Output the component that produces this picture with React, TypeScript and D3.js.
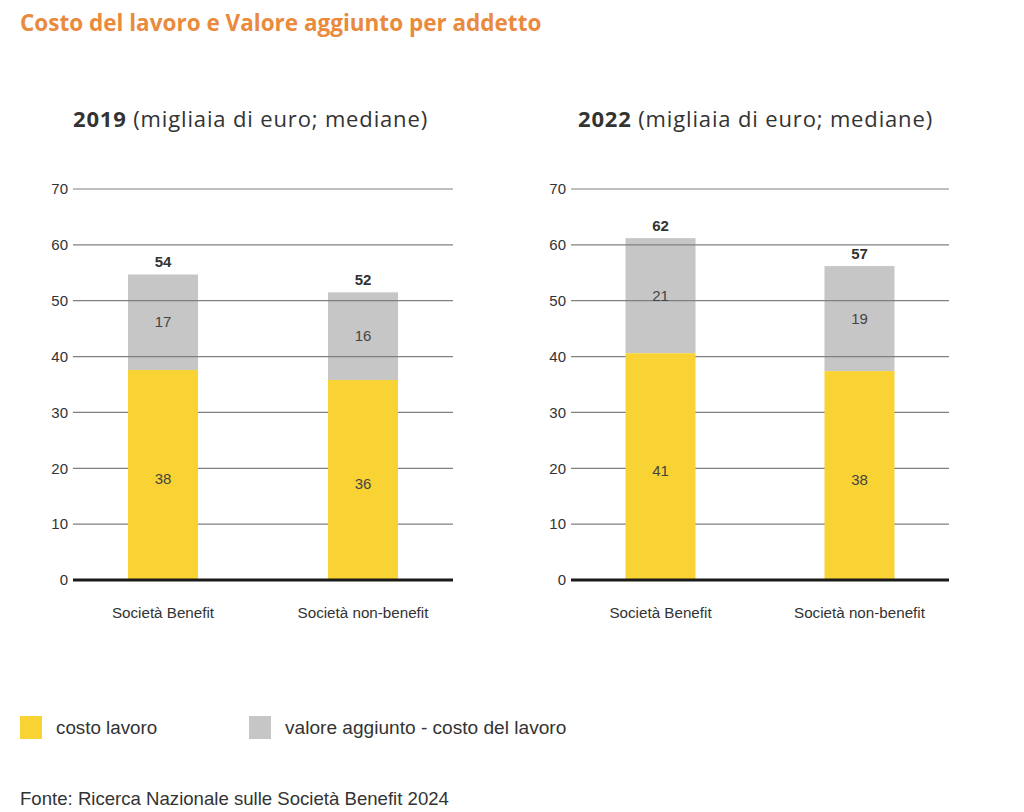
import React from "react";
import * as d3 from "d3";

const categories = ["Società Benefit", "Società non-benefit"];
const years = ["2019", "2022"];
// bar heights (migliaia di euro)
const costoLavoro2019 = [37.6, 35.8];
const valoreAggiunto2019 = [54.7, 51.5];
const costoLavoro2022 = [40.6, 37.4];
const valoreAggiunto2022 = [61.2, 56.2];
// printed labels
const costoLabels2019 = ["38", "36"];
const diffLabels2019 = ["17", "16"];
const totalLabels2019 = ["54", "52"];
const costoLabels2022 = ["41", "38"];
const diffLabels2022 = ["21", "19"];
const totalLabels2022 = ["62", "57"];
const yTicks = [0, 10, 20, 30, 40, 50, 60, 70];
const legendLabels = ["costo lavoro", "valore aggiunto - costo del lavoro"];

const YELLOW = "#F9D333";
const GREY = "#C6C6C6";
const TXT = "#333333";
const SANS = "'Liberation Sans', Arial, sans-serif";
const HEAD = "'Open Sans', 'Noto Sans', sans-serif";

const y = d3.scaleLinear().domain([0, 70]).range([580, 189]);

function Panel({ x0, x1, titleX, year, costo, totale, cLab, dLab, tLab }) {
  const x = d3.scalePoint().domain(categories).range([x0, x1]).padding(0.45);
  const bw = 70;
  const grid = yTicks.filter((t) => t > 0);
  return (
    <g>
      <text x={titleX} y={127} fontFamily={HEAD} fontSize={22} letterSpacing={0.85} fill={TXT}>
        <tspan fontWeight={700}>{year}</tspan>
        <tspan> (migliaia di euro; mediane)</tspan>
      </text>
      {yTicks.map((t) => (
        <text key={t} x={x0 - 5} y={y(t)} dy="0.35em" textAnchor="end" fontFamily={SANS} fontSize={15} fill={TXT}>
          {t}
        </text>
      ))}
      {categories.map((c, i) => (
        <rect key={c} x={x(c) - bw / 2} y={y(totale[i])} width={bw} height={y(costo[i]) - y(totale[i])} fill={GREY} />
      ))}
      {grid.map((t) => (
        <line key={t} x1={x0} x2={x1} y1={y(t)} y2={y(t)} stroke="#808080" strokeWidth={1.2} />
      ))}
      {categories.map((c, i) => {
        const cx = x(c);
        return (
          <g key={c}>
            <rect x={cx - bw / 2} y={y(costo[i])} width={bw} height={y(0) - y(costo[i])} fill={YELLOW} />
            <text x={cx} y={y(totale[i]) - 7} textAnchor="middle" fontFamily={SANS} fontSize={15} fontWeight={700} fill={TXT}>
              {tLab[i]}
            </text>
            <text x={cx} y={(y(totale[i]) + y(costo[i])) / 2} dy="0.35em" textAnchor="middle" fontFamily={SANS} fontSize={15} fill="#444">
              {dLab[i]}
            </text>
            <text x={cx} y={(y(costo[i]) + y(0)) / 2 + 4} dy="0.35em" textAnchor="middle" fontFamily={SANS} fontSize={15} fill="#444">
              {cLab[i]}
            </text>
            <text x={cx} y={613} dy="0.35em" textAnchor="middle" fontFamily={SANS} fontSize={15.2} fill={TXT}>
              {c}
            </text>
          </g>
        );
      })}
      <line x1={x0} x2={x1} y1={y(0)} y2={y(0)} stroke="#1a1a1a" strokeWidth={3} />
    </g>
  );
}

export default function App() {
  return (
    <svg width={1024} height={812} style={{ position: "absolute", left: 0, top: 0, background: "#fff" }}>
      <rect width={1024} height={812} fill="#fff" />
      <text x={20} y={31} fontFamily={HEAD} fontSize={22.5} fontWeight={700} fill="#E98A3C">
        Costo del lavoro e Valore aggiunto per addetto
      </text>
      <Panel x0={73} x1={453} titleX={73} year={years[0]} costo={costoLavoro2019} totale={valoreAggiunto2019}
        cLab={costoLabels2019} dLab={diffLabels2019} tLab={totalLabels2019} />
      <Panel x0={571} x1={949} titleX={578} year={years[1]} costo={costoLavoro2022} totale={valoreAggiunto2022}
        cLab={costoLabels2022} dLab={diffLabels2022} tLab={totalLabels2022} />
      <rect x={20} y={716} width={22} height={23} fill={YELLOW} />
      <text x={56} y={727} dy="0.35em" fontFamily={SANS} fontSize={18.8} fill={TXT}>{legendLabels[0]}</text>
      <rect x={249} y={716} width={22} height={23} fill={GREY} />
      <text x={285} y={727} dy="0.35em" fontFamily={SANS} fontSize={19.1} fill={TXT}>{legendLabels[1]}</text>
      <text x={20} y={798} dy="0.35em" fontFamily={SANS} fontSize={18.6} fill={TXT}>
        Fonte: Ricerca Nazionale sulle Società Benefit 2024
      </text>
    </svg>
  );
}
